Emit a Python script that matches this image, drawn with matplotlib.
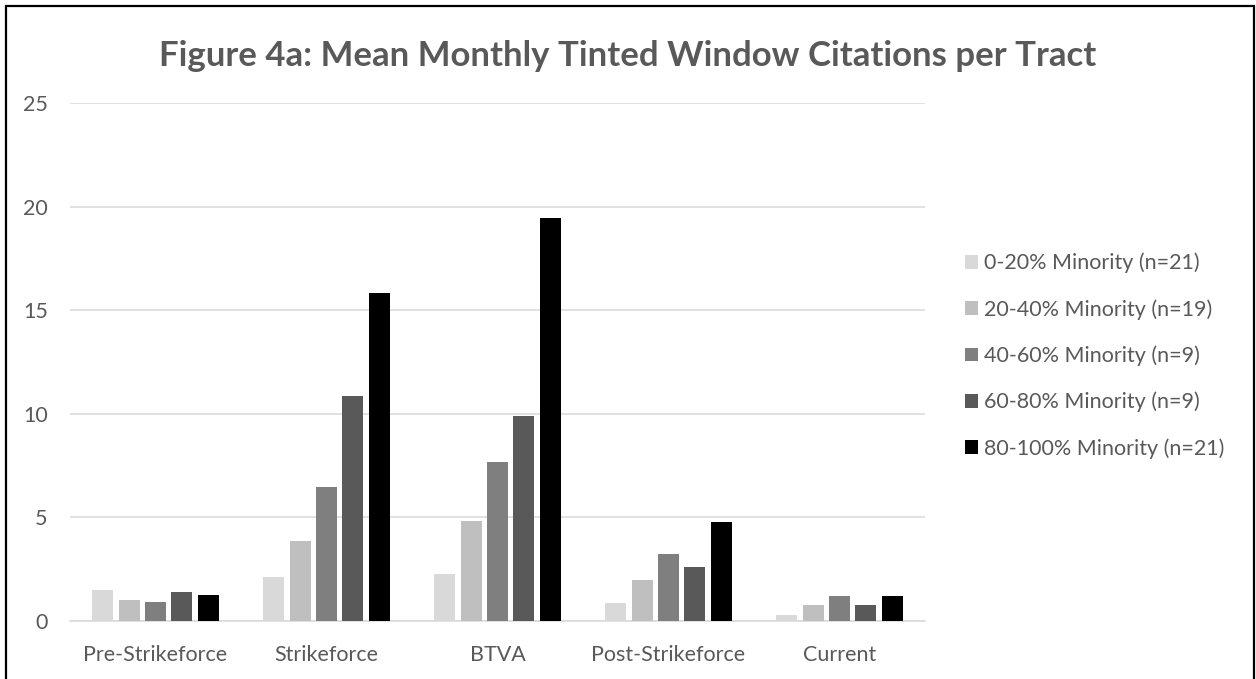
import numpy as np
import matplotlib
matplotlib.use("Agg")
import matplotlib.pyplot as plt
from matplotlib.patches import Rectangle

plt.rcParams['font.family'] = ['Lato', 'DejaVu Sans']

# data
periods = ["Pre-Strikeforce", "Strikeforce", "BTVA", "Post-Strikeforce", "Current"]
groups = ["0-20% Minority (n=21)", "20-40% Minority (n=19)", "40-60% Minority (n=9)",
          "60-80% Minority (n=9)", "80-100% Minority (n=21)"]
minority_0_20 = [1.52, 2.12, 2.25, 0.89, 0.30]
minority_20_40 = [1.02, 3.84, 4.81, 1.96, 0.75]
minority_40_60 = [0.91, 6.45, 7.69, 3.25, 1.20]
minority_60_80 = [1.39, 10.85, 9.88, 2.62, 0.78]
minority_80_100 = [1.25, 15.81, 19.43, 4.79, 1.23]
yticks = [0, 5, 10, 15, 20, 25]

series = [minority_0_20, minority_20_40, minority_40_60, minority_60_80, minority_80_100]
colors = ["#D9D9D9", "#BFBFBF", "#7F7F7F", "#595959", "#000000"]
text_col = "#595959"

fig = plt.figure(figsize=(12.56, 6.79), dpi=100)
ax = fig.add_axes([70 / 1256, 1 - 621 / 679, 855 / 1256, 518 / 679])

x = np.arange(len(periods))
pitch = 0.154
width = 0.122
for i, (vals, col, lab) in enumerate(zip(series, colors, groups)):
    ax.bar(x + (i - 2) * pitch, vals, width, color=col, label=lab, zorder=3)

ax.set_xlim(-0.5, len(periods) - 0.5)
ax.set_ylim(0, 25)
ax.set_yticks(yticks)
ax.set_xticks(x)
ax.set_xticklabels(periods)
ax.yaxis.grid(True, color="#D9D9D9", linewidth=1.1, zorder=0)
ax.tick_params(axis='both', length=0, labelsize=15.5, labelcolor=text_col)
ax.tick_params(axis='x', pad=17)
ax.tick_params(axis='y', pad=16)
for s in ['top', 'right', 'left']:
    ax.spines[s].set_visible(False)
ax.spines['bottom'].set_color("#D9D9D9")
ax.spines['bottom'].set_linewidth(1.1)

fig.text(628 / 1256, 1 - 56 / 679, "Figure 4a: Mean Monthly Tinted Window Citations per Tract",
         ha='center', va='center', fontsize=25, fontweight='bold', color=text_col)

leg = ax.legend(loc='upper left', bbox_to_anchor=(956 / 1256, 1 - 244 / 679),
                bbox_transform=fig.transFigure, frameon=False, fontsize=15.5,
                labelspacing=1.2, handlelength=0.62, handleheight=0.62,
                handletextpad=0.28, borderaxespad=0)
for t in leg.get_texts():
    t.set_color(text_col)

# outer chart border
fig.patches.append(Rectangle((6 / 1256, -0.05), 1248 / 1256, 1.05 - 6 / 679,
                             transform=fig.transFigure, fill=False,
                             edgecolor='black', linewidth=1.6))

fig.savefig("out.png", dpi=100)
